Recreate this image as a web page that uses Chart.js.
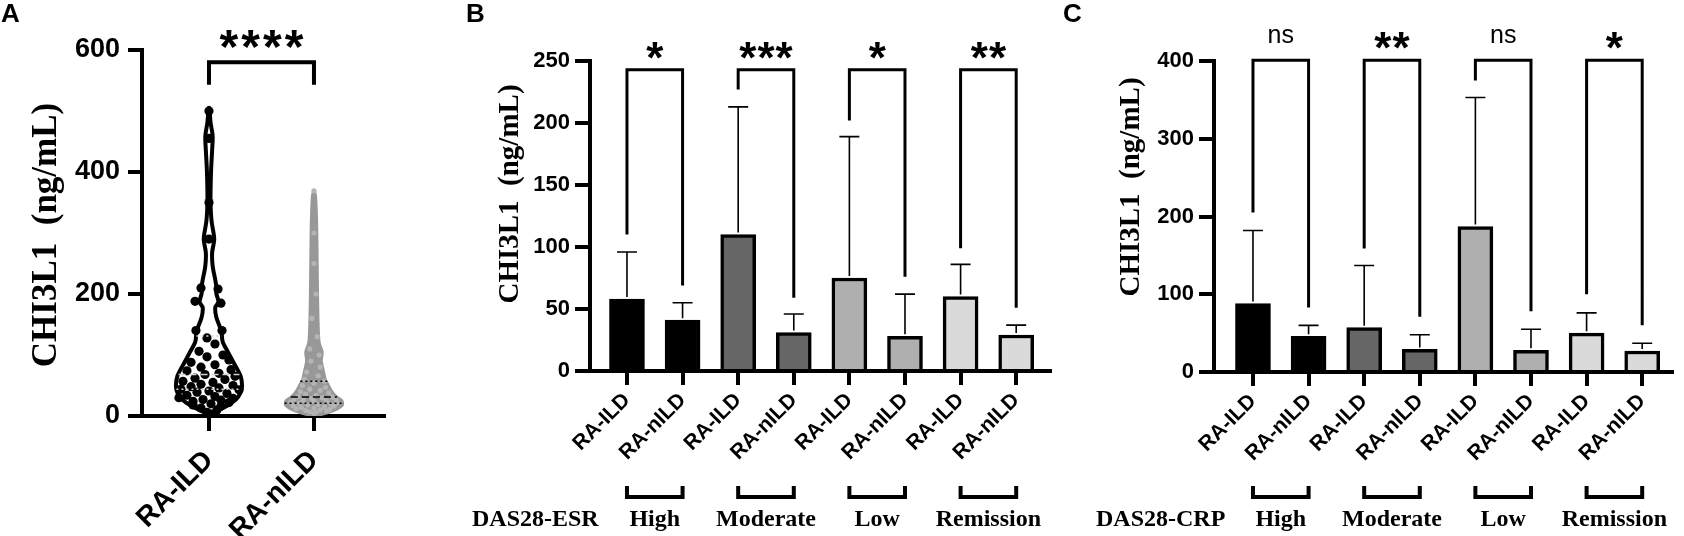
<!DOCTYPE html>
<html>
<head>
<meta charset="utf-8">
<title>CHI3L1 in RA-ILD and RA-nILD</title>
<script src="https://cdn.jsdelivr.net/npm/chart.js@4.4.1/dist/chart.umd.min.js"></script>
<style>
  html, body { margin: 0; padding: 0; background: #fff; }
  body { width: 1684px; height: 536px; position: relative; overflow: hidden; }
  .panel { position: absolute; top: 0; height: 536px; }
  .panel canvas { display: block; }
</style>
</head>
<body>
<div class="panel" style="left:0;width:400px"><canvas id="chartA" width="400" height="536"></canvas></div>
<div class="panel" style="left:420px;width:640px"><canvas id="chartB" width="640" height="536"></canvas></div>
<div class="panel" style="left:1060px;width:624px"><canvas id="chartC" width="624" height="536"></canvas></div>
<script>
const SANS = '"Liberation Sans", Arial, sans-serif';
const SERIF = '"Liberation Serif", "Times New Roman", serif';
const Y_TITLE = 'CHI3L1  (ng/mL)';

// ---------- Panel A: violin plot ----------
const groupsA = ['RA-ILD', 'RA-nILD'];
const yTicksA = [0, 200, 400, 600];

// violin outline: value levels and half widths (category units)
const ildLevels = [0, 4, 16, 27, 38, 49, 66, 89, 105, 122, 139, 162, 178, 187, 201, 212, 223, 246, 268, 290, 319, 347, 369, 403, 436, 459, 481, 505];
const ildHalf   = [0.003, 0.024, 0.165, 0.255, 0.3, 0.315, 0.3, 0.23, 0.18, 0.13, 0.118, 0.07, 0.06, 0.09, 0.07, 0.07, 0.06, 0.035, 0.03, 0.05, 0.025, 0.015, 0.015, 0.02, 0.03, 0.035, 0.015, 0.003];
const nildLevels = [0, 4, 10, 18, 25, 32, 40, 50, 60, 75, 90, 105, 120, 150, 200, 260, 320, 360, 369];
const nildHalf   = [0.01, 0.1, 0.2, 0.27, 0.265, 0.21, 0.17, 0.138, 0.108, 0.088, 0.07, 0.078, 0.05, 0.04, 0.034, 0.03, 0.025, 0.015, 0.003];

// individual values (offset from group centre, value)
const ildDotValues  = [188, 185, 140, 140, 128, 118, 106, 100, 97, 92, 88, 84, 80, 76, 74, 70, 68, 65, 62, 60, 57, 55, 52, 50, 48, 46, 44, 43, 41, 39, 37, 34, 32, 30, 29, 27, 26, 24, 22, 20, 18, 16, 13, 10, 6, 3, 210, 208, 290, 350, 455, 500];
const ildDotOffsets = [-0.133, 0.114, -0.124, 0.124, -0.019, 0.057, -0.095, 0.133, -0.019, 0.19, -0.171, 0.057, -0.076, 0.21, -0.21, 0.095, -0.038, 0.248, -0.133, 0.152, -0.248, 0.038, -0.076, 0.229, -0.171, 0.095, -0.267, 0.286, 0, -0.114, 0.171, -0.21, 0.057, -0.286, 0.229, -0.057, 0.114, -0.152, 0.19, 0.019, -0.152, 0.114, -0.076, 0.076, -0.019, 0.029, -0.076, 0.086, 0, 0, 0, 0];
const nildDotValues  = [369, 300, 250, 200, 160, 130, 110, 100, 90, 80, 72, 66, 60, 57, 54, 50, 47, 44, 42, 40, 38, 36, 34, 32, 31, 30, 29, 28, 27, 26, 25, 24, 23, 22, 21, 20, 19, 18, 17, 16, 15, 14, 13, 12, 11, 10, 9, 8, 7, 6, 4];
const nildDotOffsets = [0, 0, 0, 0.02, -0.02, 0.03, -0.04, 0.05, -0.03, 0.06, -0.07, 0.04, -0.09, 0.1, 0, -0.11, 0.11, -0.04, 0.06, -0.13, 0.14, -0.08, 0.02, -0.15, 0.17, 0.08, -0.02, -0.19, 0.21, -0.1, 0.12, 0, -0.22, 0.22, -0.14, 0.16, 0.04, -0.06, -0.2, 0.19, 0.1, -0.12, 0, -0.17, 0.15, 0.06, -0.08, 0.12, -0.04, 0.02, 0];

// quartile / median lines
const ildQuartiles = [44, 68, 131];
const ildQuartileHalf = [0.31, 0.29, 0.12];
const nildQuartiles = [21, 31, 57];
const nildQuartileHalf = [0.28, 0.22, 0.13];

// ---------- Panel B: DAS28-ESR ----------
const barLabels = ['RA-ILD', 'RA-nILD', 'RA-ILD', 'RA-nILD', 'RA-ILD', 'RA-nILD', 'RA-ILD', 'RA-nILD'];
const activityGroups = ['High', 'Moderate', 'Low', 'Remission'];
const barColors = ['#000000', '#000000', '#666666', '#666666', '#afafaf', '#afafaf', '#dadada', '#dadada'];

const yTicksB = [0, 50, 100, 150, 200, 250];
const meanB  = [58, 41, 110, 31, 75, 28, 60, 29];
const upperB = [96, 55, 213, 46, 189, 62, 86, 37];
const bracketTopB   = [243, 243, 243, 243];
const bracketLeftB  = [110, 227, 202, 99];
const bracketRightB = [69, 59, 76, 51];
const sigB = ['*', '***', '*', '**'];

// ---------- Panel C: DAS28-CRP ----------
const yTicksC = [0, 100, 200, 300, 400];
const meanC  = [88, 46, 57, 29, 187, 28, 50, 27];
const upperC = [182, 60, 137, 48, 353, 55, 76, 37];
const bracketTopC   = [401, 401, 401, 401];
const bracketLeftC  = [205, 159, 375, 100];
const bracketRightC = [83, 71, 78, 60];
const sigC = ['ns', '**', 'ns', '*'];

// ---------- plugins ----------
function textPlugin(items) {
  return {
    id: 'panelText',
    afterDraw(chart) {
      const ctx = chart.ctx;
      items.forEach(t => {
        ctx.save();
        ctx.font = t.font;
        ctx.fillStyle = '#000';
        ctx.textAlign = t.align || 'left';
        ctx.textBaseline = t.baseline || 'alphabetic';
        ctx.translate(t.x, t.y);
        if (t.rotate) ctx.rotate(t.rotate);
        ctx.fillText(t.text, 0, 0);
        ctx.restore();
      });
    }
  };
}

function errorBarPlugin(means, upper) {
  return {
    id: 'errorBars',
    afterDatasetsDraw(chart) {
      const {ctx, scales: {x, y}} = chart;
      ctx.save();
      ctx.strokeStyle = '#000';
      ctx.lineWidth = 1.6;
      means.forEach((m, i) => {
        const px = x.getPixelForValue(i);
        const y0 = y.getPixelForValue(m) - 2;
        const y1 = y.getPixelForValue(upper[i]);
        ctx.beginPath();
        ctx.moveTo(px, y0);
        ctx.lineTo(px, y1);
        ctx.moveTo(px - 10, y1);
        ctx.lineTo(px + 10, y1);
        ctx.stroke();
      });
      ctx.restore();
    }
  };
}

function bracketPlugin(pairs, tops, lefts, rights, labels, style) {
  return {
    id: 'sigBrackets',
    afterDraw(chart) {
      const {ctx, scales: {x, y}} = chart;
      ctx.save();
      ctx.strokeStyle = '#000';
      ctx.fillStyle = '#000';
      ctx.lineWidth = style.lineWidth;
      ctx.lineJoin = 'miter';
      labels.forEach((lab, k) => {
        const x0 = x.getPixelForValue(pairs[k][0]);
        const x1 = x.getPixelForValue(pairs[k][1]);
        const yt = y.getPixelForValue(tops[k]);
        ctx.beginPath();
        ctx.moveTo(x0, y.getPixelForValue(lefts[k]));
        ctx.lineTo(x0, yt);
        ctx.lineTo(x1, yt);
        ctx.lineTo(x1, y.getPixelForValue(rights[k]));
        ctx.stroke();
        const isNs = lab === 'ns';
        ctx.font = isNs ? style.nsFont : style.starFont;
        ctx.letterSpacing = isNs ? '0px' : style.starSpacing + 'px';
        ctx.textAlign = 'center';
        ctx.textBaseline = 'alphabetic';
        const cx = (x0 + x1) / 2 + (isNs ? 0 : style.starSpacing / 2);
        ctx.fillText(lab, cx, yt + (isNs ? style.nsDy : style.starDy));
      });
      ctx.restore();
    }
  };
}

function groupPlugin(groups, rowTitle, rowX) {
  return {
    id: 'groupRow',
    afterDraw(chart) {
      const {ctx, scales: {x}} = chart;
      ctx.save();
      ctx.strokeStyle = '#000';
      ctx.fillStyle = '#000';
      ctx.lineWidth = 4;
      ctx.font = 'bold 24px ' + SERIF;
      ctx.textBaseline = 'alphabetic';
      groups.forEach((g, k) => {
        const x0 = x.getPixelForValue(2 * k);
        const x1 = x.getPixelForValue(2 * k + 1);
        ctx.beginPath();
        ctx.moveTo(x0, 486);
        ctx.lineTo(x0, 497);
        ctx.lineTo(x1, 497);
        ctx.lineTo(x1, 486);
        ctx.stroke();
        ctx.textAlign = 'center';
        ctx.fillText(g, (x0 + x1) / 2, 526);
      });
      ctx.textAlign = 'left';
      ctx.fillText(rowTitle, rowX, 526);
      ctx.restore();
    }
  };
}

function axisStyle(tickLength) {
  return {
    grid: { offset: false, drawOnChartArea: false, tickLength: tickLength, lineWidth: 4, color: '#000' },
    border: { width: 4, color: '#000' }
  };
}

// ---------- Panel A chart ----------
function violinOutline(center, levels, half) {
  const left = levels.map((v, i) => ({ x: center - half[i], y: v }));
  const right = levels.map((v, i) => ({ x: center + half[i], y: v })).reverse();
  return left.concat(right, [left[0]]);
}
function quartileLines(center, values, half, color, order) {
  return values.map((v, i) => ({
    data: [{ x: center - half[i], y: v }, { x: center + half[i], y: v }],
    showLine: true, pointRadius: 0, borderColor: color, borderWidth: 1.5,
    borderDash: i === 1 ? [7, 4] : [2, 3], order: order
  }));
}

new Chart(document.getElementById('chartA'), {
  type: 'scatter',
  data: {
    datasets: [
      ...quartileLines(1, ildQuartiles, ildQuartileHalf, '#d2d2d2', 1),
      { data: ildDotValues.map((v, i) => ({ x: 1 + ildDotOffsets[i], y: v })),
        pointRadius: 4.6, pointBackgroundColor: '#000', pointBorderWidth: 0, order: 2 },
      { data: violinOutline(1, ildLevels, ildHalf), showLine: true, fill: 'shape', tension: 0.3,
        backgroundColor: '#ffffff', borderColor: '#000', borderWidth: 4, pointRadius: 0, order: 3 },
      ...quartileLines(2, nildQuartiles, nildQuartileHalf, '#000', 4),
      { data: nildDotValues.map((v, i) => ({ x: 2 + nildDotOffsets[i], y: v })),
        pointRadius: 2.6, pointBackgroundColor: '#b4b4b4', pointBorderWidth: 0, order: 5 },
      { data: violinOutline(2, nildLevels, nildHalf), showLine: true, fill: 'shape', tension: 0.3,
        backgroundColor: '#989898', borderColor: '#989898', borderWidth: 3, pointRadius: 0, order: 6 }
    ]
  },
  options: {
    responsive: false, animation: false, events: [], devicePixelRatio: 1,
    layout: { padding: { left: 0, right: 16, top: 50, bottom: 0 } },
    plugins: { legend: { display: false }, tooltip: { enabled: false } },
    scales: {
      x: Object.assign({
        type: 'linear', min: 0.362, max: 2.667,
        afterBuildTicks: s => { s.ticks = groupsA.map((_, i) => ({ value: i + 1 })); },
        afterFit: s => { s.height = 120; },
        ticks: { autoSkip: false, minRotation: 45, maxRotation: 45, padding: 13, color: '#000',
                 font: { family: SANS, size: 28, weight: 'bold' }, callback: (v, i) => groupsA[i] }
      }, axisStyle(15)),
      y: Object.assign({
        min: 0, max: 600,
        afterBuildTicks: s => { s.ticks = yTicksA.map(v => ({ value: v })); },
        afterFit: s => { s.width = 142; },
        ticks: { padding: 8, color: '#000', font: { family: SANS, size: 27, weight: 'bold' } }
      }, axisStyle(14))
    }
  },
  plugins: [
    bracketPlugin([[1, 2]], [580], [543], [543], ['****'],
      { lineWidth: 4, starFont: 'bold 48px ' + SANS, starSpacing: 3, starDy: 1, nsFont: '24px ' + SANS, nsDy: -17 }),
    textPlugin([
      { text: 'A', x: 1, y: 22, font: 'bold 26px ' + SANS },
      { text: Y_TITLE, x: 47, y: 235, font: 'bold 35px ' + SERIF, align: 'center', baseline: 'middle', rotate: -Math.PI / 2 }
    ])
  ]
});

// ---------- Panels B and C ----------
function makeBarPanel(id, p) {
  return new Chart(document.getElementById(id), {
    type: 'bar',
    data: {
      datasets: [{
        data: p.means.map((m, i) => ({ x: i, y: m })),
        backgroundColor: barColors, borderColor: '#000', borderWidth: 3.5,
        barThickness: 35, borderSkipped: 'start'
      }]
    },
    options: {
      responsive: false, animation: false, events: [], devicePixelRatio: 1,
      layout: { padding: { left: 0, right: p.padRight, top: 61, bottom: 0 } },
      plugins: { legend: { display: false }, tooltip: { enabled: false } },
      scales: {
        x: Object.assign({
          type: 'linear', offset: false, min: p.xMin, max: p.xMax,
          afterBuildTicks: s => { s.ticks = barLabels.map((_, i) => ({ value: i })); },
          afterFit: s => { s.height = p.xHeight; },
          ticks: { autoSkip: false, minRotation: 45, maxRotation: 45, padding: 3, color: '#000',
                   font: { family: SANS, size: 21, weight: 'bold' }, callback: (v, i) => barLabels[i] }
        }, axisStyle(14)),
        y: Object.assign({
          min: 0, max: p.yTicks[p.yTicks.length - 1],
          afterBuildTicks: s => { s.ticks = p.yTicks.map(v => ({ value: v })); },
          afterFit: s => { s.width = p.yWidth; },
          ticks: { padding: 5, color: '#000', font: { family: SANS, size: 22, weight: 'bold' } }
        }, axisStyle(15))
      }
    },
    plugins: [
      errorBarPlugin(p.means, p.upper),
      bracketPlugin([[0, 1], [2, 3], [4, 5], [6, 7]], p.tops, p.lefts, p.rights, p.sig,
        { lineWidth: 3, starFont: 'bold 44px ' + SANS, starSpacing: 1, starDy: 3, nsFont: '25px ' + SANS, nsDy: -17 }),
      groupPlugin(activityGroups, p.rowTitle, p.rowX),
      textPlugin([
        { text: p.letter, x: p.letterX, y: 22, font: 'bold 26px ' + SANS },
        { text: Y_TITLE, x: p.titleX, y: p.titleY, font: 'bold 29px ' + SERIF, align: 'center', baseline: 'middle', rotate: -Math.PI / 2 }
      ])
    ]
  });
}

makeBarPanel('chartB', {
  means: meanB, upper: upperB, yTicks: yTicksB,
  tops: bracketTopB, lefts: bracketLeftB, rights: bracketRightB, sig: sigB,
  xMin: -0.665, xMax: 7.608, xHeight: 165, yWidth: 170, padRight: 10,
  rowTitle: 'DAS28-ESR', rowX: 52, letter: 'B', letterX: 46, titleX: 91, titleY: 194
});

makeBarPanel('chartC', {
  means: meanC, upper: upperC, yTicks: yTicksC,
  tops: bracketTopC, lefts: bracketLeftC, rights: bracketRightC, sig: sigC,
  xMin: -0.701, xMax: 7.536, xHeight: 164, yWidth: 154, padRight: 12,
  rowTitle: 'DAS28-CRP', rowX: 36, letter: 'C', letterX: 3, titleX: 72, titleY: 187
});
</script>
</body>
</html>
